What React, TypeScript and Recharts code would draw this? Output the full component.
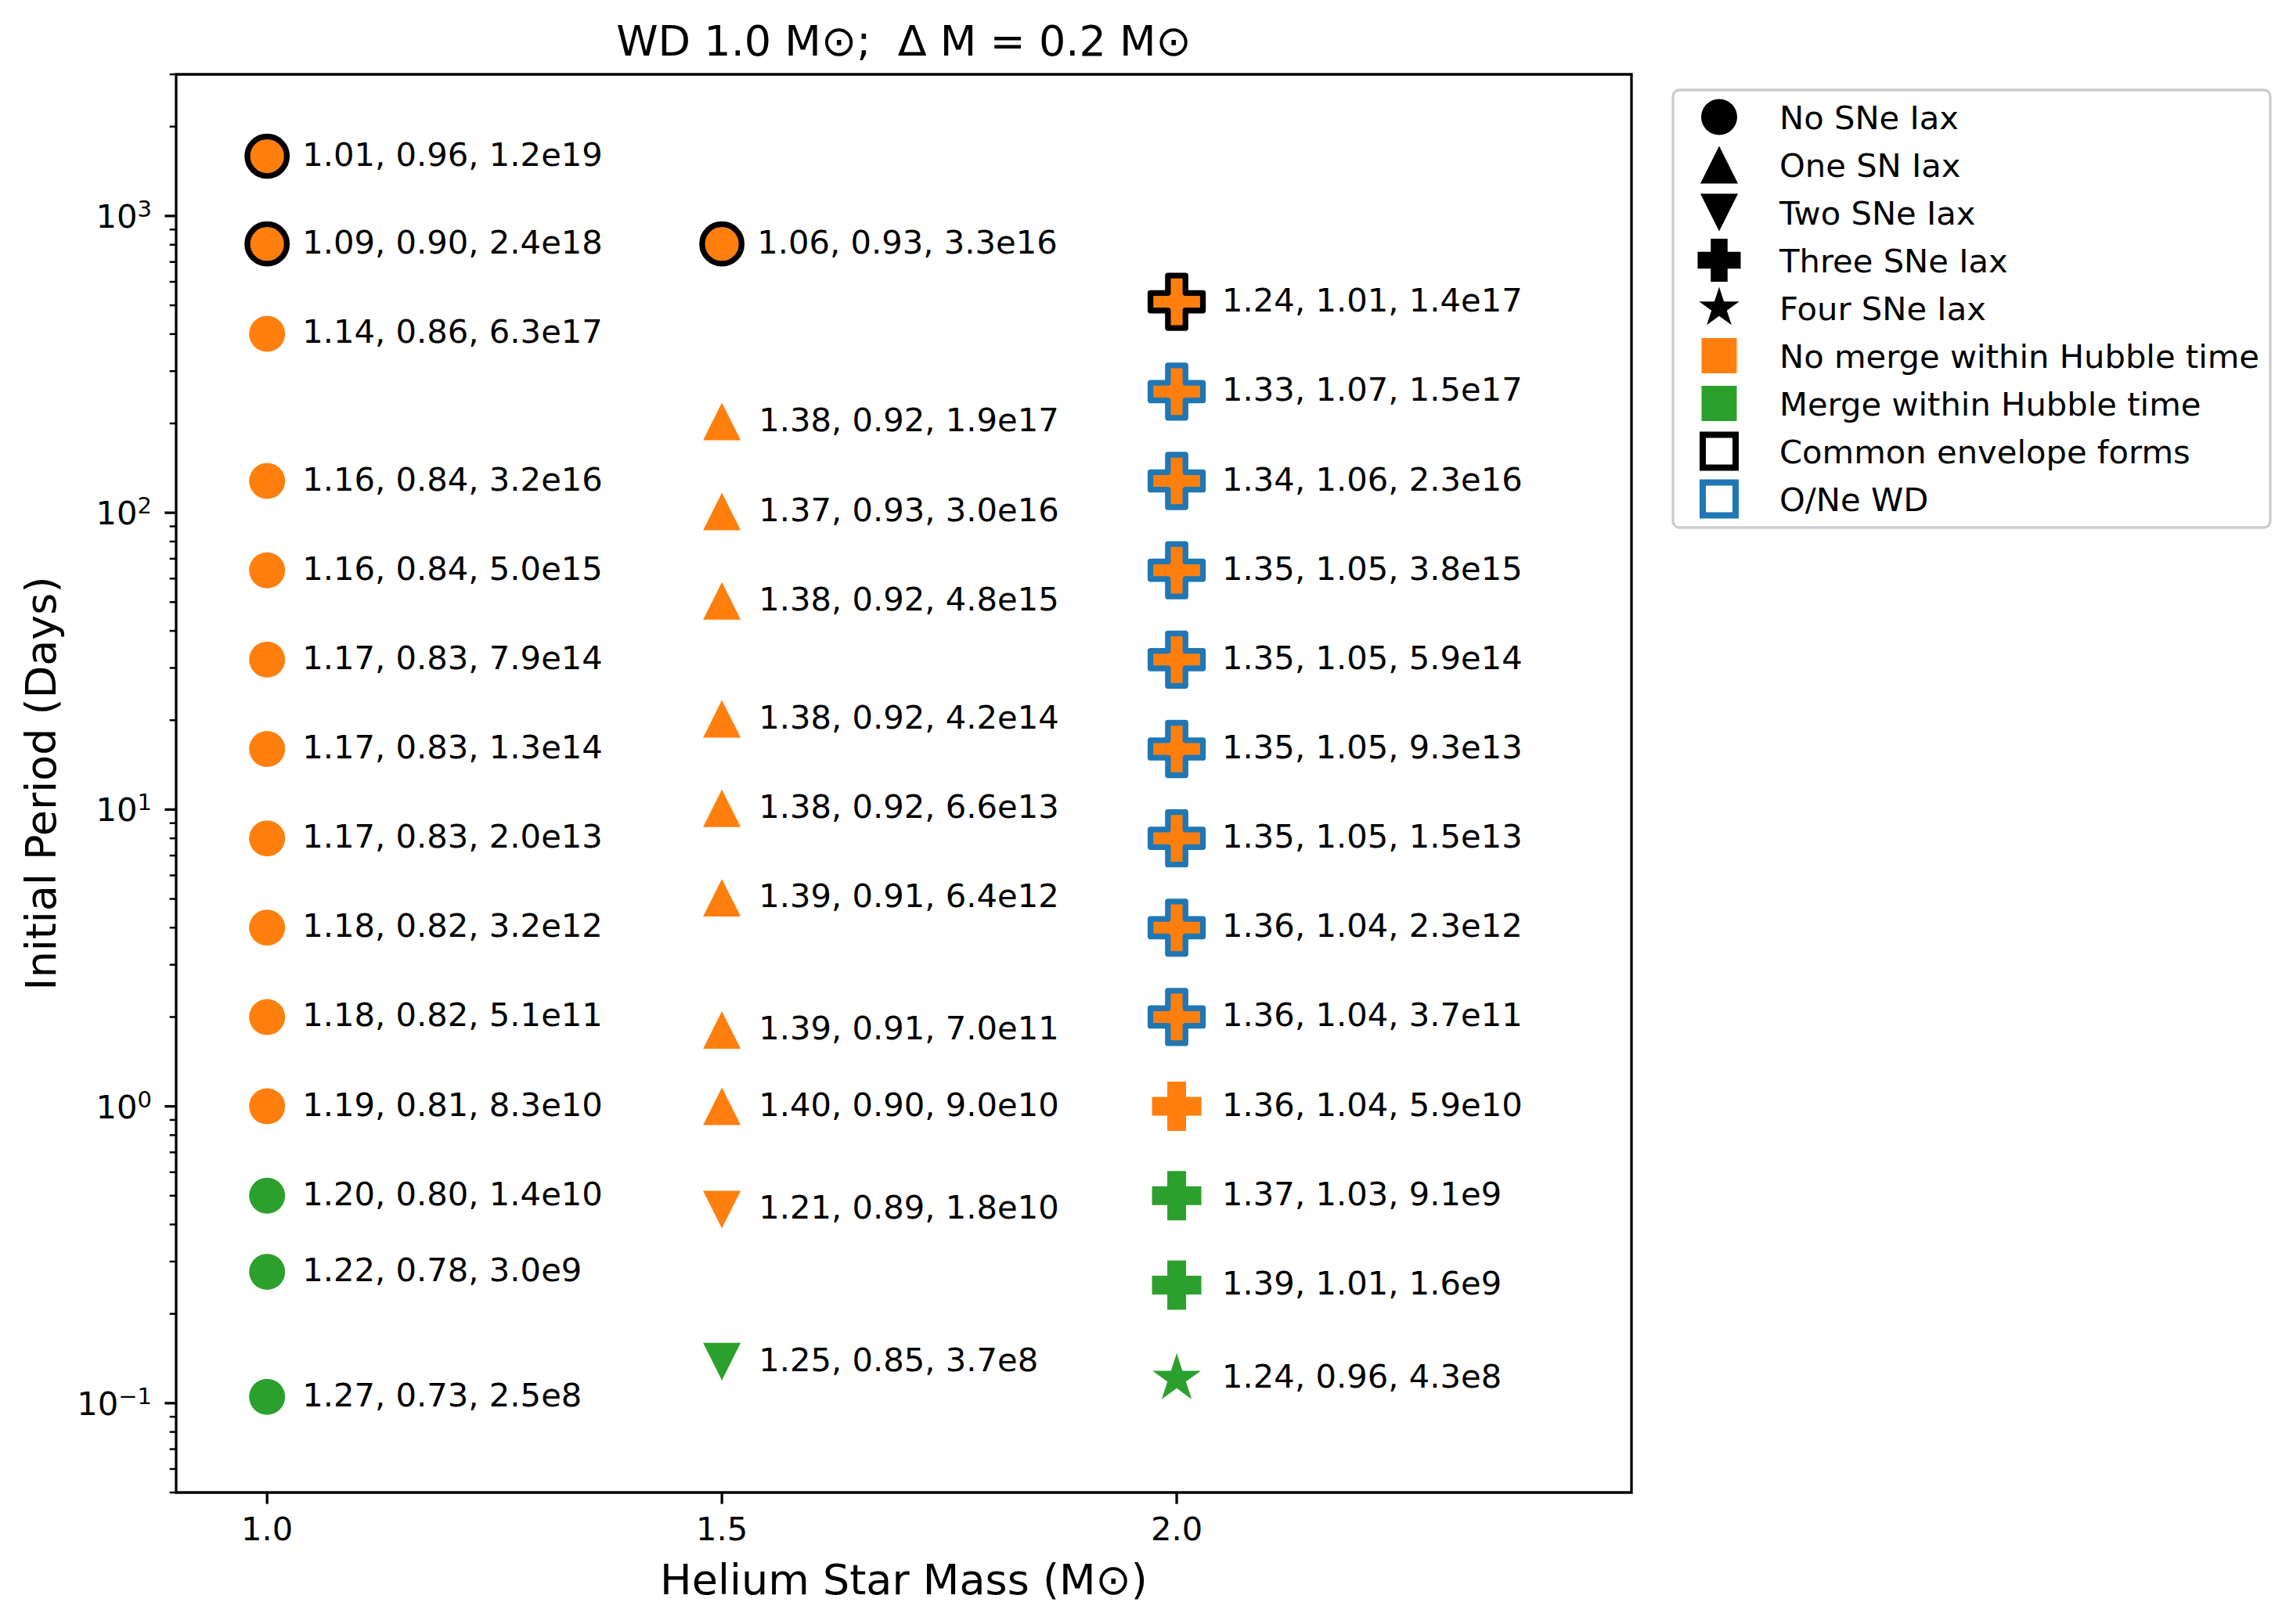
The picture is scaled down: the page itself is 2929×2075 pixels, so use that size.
import React from 'react';
import { ScatterChart, Scatter, XAxis, YAxis, ReferenceArea } from 'recharts';

const FONT = '"DejaVu Sans", "Liberation Sans", sans-serif';
const ORANGE = '#ff7f0e';
const GREEN = '#2ca02c';
const BLUE = '#1f77b4';

// ---- data ----
const heliumMass = [
  1.0, 1.0, 1.0, 1.0, 1.0, 1.0, 1.0, 1.0, 1.0, 1.0, 1.0, 1.0, 1.0, 1.0,
  1.5, 1.5, 1.5, 1.5, 1.5, 1.5, 1.5, 1.5, 1.5, 1.5, 1.5,
  2.0, 2.0, 2.0, 2.0, 2.0, 2.0, 2.0, 2.0, 2.0, 2.0, 2.0, 2.0, 2.0,
];
const periodDays = [
  1590, 805, 401, 128, 64, 32, 16, 8, 4, 2, 1, 0.5, 0.277, 0.105,
  805, 203, 101, 50.5, 20.2, 10.1, 5.05, 1.81, 1.0, 0.449, 0.138,
  514, 256, 128, 64, 32, 16, 8, 4, 2, 1, 0.5, 0.25, 0.121,
];
const pointLabels = [
  '1.01, 0.96, 1.2e19', '1.09, 0.90, 2.4e18', '1.14, 0.86, 6.3e17', '1.16, 0.84, 3.2e16',
  '1.16, 0.84, 5.0e15', '1.17, 0.83, 7.9e14', '1.17, 0.83, 1.3e14', '1.17, 0.83, 2.0e13',
  '1.18, 0.82, 3.2e12', '1.18, 0.82, 5.1e11', '1.19, 0.81, 8.3e10', '1.20, 0.80, 1.4e10',
  '1.22, 0.78, 3.0e9', '1.27, 0.73, 2.5e8',
  '1.06, 0.93, 3.3e16', '1.38, 0.92, 1.9e17', '1.37, 0.93, 3.0e16', '1.38, 0.92, 4.8e15',
  '1.38, 0.92, 4.2e14', '1.38, 0.92, 6.6e13', '1.39, 0.91, 6.4e12', '1.39, 0.91, 7.0e11',
  '1.40, 0.90, 9.0e10', '1.21, 0.89, 1.8e10', '1.25, 0.85, 3.7e8',
  '1.24, 1.01, 1.4e17', '1.33, 1.07, 1.5e17', '1.34, 1.06, 2.3e16', '1.35, 1.05, 3.8e15',
  '1.35, 1.05, 5.9e14', '1.35, 1.05, 9.3e13', '1.35, 1.05, 1.5e13', '1.36, 1.04, 2.3e12',
  '1.36, 1.04, 3.7e11', '1.36, 1.04, 5.9e10', '1.37, 1.03, 9.1e9', '1.39, 1.01, 1.6e9',
  '1.24, 0.96, 4.3e8',
];
// number of SNe Iax: 0 circle, 1 up-triangle, 2 down-triangle, 3 plus, 4 star
const snCount = [
  0, 0, 0, 0, 0, 0, 0, 0, 0, 0, 0, 0, 0, 0,
  0, 1, 1, 1, 1, 1, 1, 1, 1, 2, 2,
  3, 3, 3, 3, 3, 3, 3, 3, 3, 3, 3, 3, 4,
];
const mergesInHubble = [
  false, false, false, false, false, false, false, false, false, false, false, true, true, true,
  false, false, false, false, false, false, false, false, false, false, true,
  false, false, false, false, false, false, false, false, false, false, true, true, true,
];
// 'CE' common envelope, 'ONe' O/Ne WD, '' none
const envelopeType = [
  'CE', 'CE', '', '', '', '', '', '', '', '', '', '', '', '',
  'CE', '', '', '', '', '', '', '', '', '', '',
  'CE', 'ONe', 'ONe', 'ONe', 'ONe', 'ONe', 'ONe', 'ONe', 'ONe', '', '', '', '',
];

const xTicks = [1.0, 1.5, 2.0];
const yMajorTicks = [0.1, 1, 10, 100, 1000];
const yMinorTicks = [
  0.05, 0.06, 0.07, 0.08, 0.09,
  0.2, 0.3, 0.4, 0.5, 0.6, 0.7, 0.8, 0.9,
  2, 3, 4, 5, 6, 7, 8, 9,
  20, 30, 40, 50, 60, 70, 80, 90,
  200, 300, 400, 500, 600, 700, 800, 900,
  2000, 3000,
];

const legendLabels = [
  'No SNe Iax', 'One SN Iax', 'Two SNe Iax', 'Three SNe Iax', 'Four SNe Iax',
  'No merge within Hubble time', 'Merge within Hubble time', 'Common envelope forms', 'O/Ne WD',
];
const legendKinds = ['circle', 'up', 'down', 'plus', 'star', 'sqOrange', 'sqGreen', 'sqBlack', 'sqBlue'];

const points = heliumMass.map((m, i) => ({
  mass: m,
  period: periodDays[i],
  label: pointLabels[i],
  sn: snCount[i],
  merge: mergesInHubble[i],
  env: envelopeType[i],
}));

const FS = 41.7;

// ---- marker drawing ----
const plusPath = (cx: number, cy: number, s: number, a: number) =>
  `M${cx - a},${cy - s}L${cx + a},${cy - s}L${cx + a},${cy - a}L${cx + s},${cy - a}L${cx + s},${cy + a}` +
  `L${cx + a},${cy + a}L${cx + a},${cy + s}L${cx - a},${cy + s}L${cx - a},${cy + a}L${cx - s},${cy + a}` +
  `L${cx - s},${cy - a}L${cx - a},${cy - a}Z`;

const starPath = (cx: number, cy: number, r: number) => {
  const ri = r * 0.381966;
  let d = '';
  for (let k = 0; k < 10; k++) {
    const ang = (-90 + k * 36) * Math.PI / 180;
    const rr = k % 2 === 0 ? r : ri;
    d += (k === 0 ? 'M' : 'L') + (cx + rr * Math.cos(ang)) + ',' + (cy + rr * Math.sin(ang));
  }
  return d + 'Z';
};

const triPath = (cx: number, cy: number, h: number, up: boolean) =>
  up
    ? `M${cx},${cy - h}L${cx + h},${cy + h}L${cx - h},${cy + h}Z`
    : `M${cx},${cy + h}L${cx + h},${cy - h}L${cx - h},${cy - h}Z`;

function drawMarker(sn: number, cx: number, cy: number, fill: string, edge: string | null, legend = false) {
  const sw = edge ? 7.3 : 0;
  const stroke = edge || 'none';
  if (sn === 0) {
    return <circle cx={cx} cy={cy} r={edge ? 25.25 : 23} fill={fill} stroke={stroke} strokeWidth={sw} />;
  }
  if (sn === 1 || sn === 2) {
    return <path d={triPath(cx, cy, 24, sn === 1)} fill={fill} stroke={stroke} strokeWidth={sw} strokeLinejoin="miter" />;
  }
  if (sn === 3) {
    const s = legend ? 27.5 : edge ? 33.5 : 31.5;
    const a = legend ? 10.75 : edge ? 11.2 : 12;
    return <path d={plusPath(cx, cy, s, a)} fill={fill} stroke={stroke} strokeWidth={sw} strokeLinejoin="round" />;
  }
  const r = legend ? 27 : 32.5;
  return <path d={starPath(cx, cy, r)} fill={fill} stroke={stroke} strokeWidth={sw} />;
}

const PointShape = (props: any) => {
  const { cx, cy, payload } = props;
  if (cx == null || cy == null) return null;
  const fill = payload.merge ? GREEN : ORANGE;
  const edge = payload.env === 'CE' ? '#000' : payload.env === 'ONe' ? BLUE : null;
  const dx = payload.sn >= 3 ? 58 : payload.sn >= 1 ? 47 : 45;
  return (
    <g>
      {drawMarker(payload.sn, cx, cy, fill, edge)}
      <text x={cx + dx} y={cy + 12} fontSize={FS} fontFamily={FONT} fill="#000">{payload.label}</text>
    </g>
  );
};

const YTick = (props: any) => {
  const { x, y, payload } = props;
  const v = payload.value;
  const lg = Math.log10(v);
  const exp = Math.round(lg);
  const isMajor = Math.abs(lg - exp) < 1e-6;
  return (
    <g>
      <line x1={x - (isMajor ? 14.6 : 8.3)} x2={x} y1={y} y2={y} stroke="#000" strokeWidth={isMajor ? 3.3 : 2.5} />
      {isMajor && (
        <text x={x - 31} y={y + 15} textAnchor="end" fontSize={FS} fontFamily={FONT} fill="#000">
          10<tspan dy={-14} fontSize={29}>{exp < 0 ? '\u2212' + -exp : String(exp)}</tspan>
        </text>
      )}
    </g>
  );
};

const XTick = (props: any) => {
  const { x, y, payload } = props;
  return (
    <g>
      <line x1={x} x2={x} y1={y} y2={y + 14.6} stroke="#000" strokeWidth={3.3} />
      <text x={x} y={y + 61} textAnchor="middle" fontSize={FS} fontFamily={FONT} fill="#000">
        {Number(payload.value).toFixed(1)}
      </text>
    </g>
  );
};

function LegendSymbol({ kind, cx, cy }: { kind: string; cx: number; cy: number }) {
  switch (kind) {
    case 'circle': return drawMarker(0, cx, cy, '#000', null, true);
    case 'up': return drawMarker(1, cx, cy, '#000', null, true);
    case 'down': return drawMarker(2, cx, cy, '#000', null, true);
    case 'plus': return drawMarker(3, cx, cy, '#000', null, true);
    case 'star': return drawMarker(4, cx, cy, '#000', null, true);
    case 'sqOrange': return <rect x={cx - 22.5} y={cy - 22.5} width={45} height={45} fill={ORANGE} />;
    case 'sqGreen': return <rect x={cx - 22.5} y={cy - 22.5} width={45} height={45} fill={GREEN} />;
    case 'sqBlack': return <rect x={cx - 21} y={cy - 21} width={42} height={42} fill="#fff" stroke="#000" strokeWidth={8} />;
    default: return <rect x={cx - 21} y={cy - 21} width={42} height={42} fill="#fff" stroke={BLUE} strokeWidth={8} />;
  }
}

export default function App() {
  const W = 2929;
  const H = 2075;
  return (
    <div style={{ position: 'absolute', left: 0, top: 0, width: W, height: H, background: '#fff' }}>
      <ScatterChart width={W} height={H} margin={{ top: 95, right: 845, bottom: 0, left: 0 }}>
        <XAxis
          type="number"
          dataKey="mass"
          domain={[0.9, 2.5]}
          ticks={xTicks}
          allowDataOverflow
          height={168}
          axisLine={false}
          tickLine={false}
          tickSize={0}
          tickMargin={0}
          interval={0}
          tick={<XTick />}
        />
        <YAxis
          type="number"
          dataKey="period"
          scale="log"
          domain={[0.05, 3000]}
          ticks={[...yMajorTicks, ...yMinorTicks]}
          allowDataOverflow
          width={225}
          axisLine={false}
          tickLine={false}
          tickSize={0}
          tickMargin={0}
          interval={0}
          tick={<YTick />}
        />
        <ReferenceArea x1={0.9} x2={2.5} y1={0.05} y2={3000} fill="none" fillOpacity={0} stroke="#000" strokeWidth={3.3} ifOverflow="visible" />
        <Scatter data={points} isAnimationActive={false} shape={<PointShape />} />
      </ScatterChart>
      <svg width={W} height={H} style={{ position: 'absolute', left: 0, top: 0, pointerEvents: 'none' }}>
        <text x={1154.5} y={71} textAnchor="middle" fontSize={54} fontFamily={FONT} fill="#000" style={{ whiteSpace: 'pre' }}>
          {'WD 1.0 M\u2299;  \u0394 M = 0.2 M\u2299'}
        </text>
        <text x={1154.5} y={2037} textAnchor="middle" fontSize={54} fontFamily={FONT} fill="#000">
          {'Helium Star Mass (M\u2299)'}
        </text>
        <text x={71} y={1001} transform="rotate(-90, 71, 1001)" textAnchor="middle" fontSize={54} fontFamily={FONT} fill="#000">
          Initial Period (Days)
        </text>
        <rect x={2137} y={115} width={763} height={559} rx={8} ry={8} fill="#fff" fillOpacity={0.8} stroke="#cccccc" strokeWidth={3.3} />
        {legendLabels.map((lab, i) => {
          const cy = 149.5 + i * 61;
          return (
            <g key={lab}>
              <LegendSymbol kind={legendKinds[i]} cx={2196} cy={cy} />
              <text x={2273} y={cy + 15} fontSize={FS} fontFamily={FONT} fill="#000">{lab}</text>
            </g>
          );
        })}
      </svg>
    </div>
  );
}
